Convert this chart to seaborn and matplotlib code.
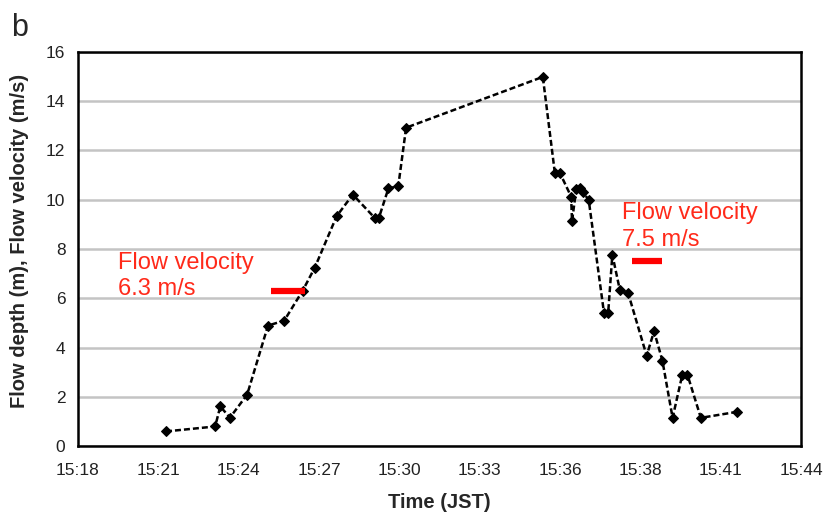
import pandas as pd
import numpy as np
import matplotlib
matplotlib.use("Agg")
import matplotlib.pyplot as plt
import matplotlib.dates as mdates
import seaborn as sns

# observed flow depth (time, depth in m)
times = ["15:21:10", "15:22:56", "15:23:07", "15:23:28", "15:24:05", "15:24:50",
         "15:25:25", "15:26:05", "15:26:31", "15:27:18", "15:27:53", "15:28:41",
         "15:28:49", "15:29:10", "15:29:31", "15:29:48", "15:34:43", "15:35:09",
         "15:35:20", "15:35:44", "15:35:46", "15:35:55", "15:36:03", "15:36:10",
         "15:36:22", "15:36:55", "15:37:04", "15:37:13", "15:37:29", "15:37:47",
         "15:38:27", "15:38:43", "15:39:01", "15:39:23", "15:39:44", "15:39:55",
         "15:40:24", "15:41:41"]
depth = [0.61, 0.81, 1.62, 1.17, 2.10, 4.90,
         5.10, 6.32, 7.25, 9.33, 10.21, 9.25,
         9.25, 10.47, 10.54, 12.92, 14.98, 11.08,
         11.08, 10.13, 9.13, 10.42, 10.47, 10.30,
         9.99, 5.41, 5.41, 7.77, 6.36, 6.22,
         3.68, 4.67, 3.48, 1.16, 2.91, 2.91,
         1.16, 1.40]

# flow velocity estimates (start, end, velocity)
vel_start = ["15:24:56", "15:37:55"]
vel_end = ["15:26:10", "15:39:01"]
vel_value = [6.3, 7.5]
vel_labels = ["Flow velocity\n6.3 m/s", "Flow velocity\n7.5 m/s"]
label_time = ["15:19:27", "15:37:33"]
label_y = [5.92, 7.94]

tick_labels = ["15:18", "15:21", "15:24", "15:27", "15:30",
               "15:33", "15:36", "15:38", "15:41", "15:44"]

day = "2011-03-11 "
df = pd.DataFrame({"time": pd.to_datetime([day + t for t in times]), "depth": depth})

sns.set_style("white")
plt.rcParams['font.family'] = ['Liberation Sans', 'DejaVu Sans']

fig = plt.figure(figsize=(8.26, 5.12), dpi=100)
ax = fig.add_axes([0.0944, 0.128, 0.8753, 0.771])

sns.lineplot(data=df, x="time", y="depth", ax=ax, color="black",
             linestyle=(0, (2.4, 1.2)), linewidth=1.8,
             marker="D", markersize=5.5, markeredgecolor="black", zorder=3)

# red bars for flow velocity
for s, e, v in zip(vel_start, vel_end, vel_value):
    ax.plot(pd.to_datetime([day + s, day + e]), [v, v], color="#ff0000",
            linewidth=4.5, solid_capstyle="butt", zorder=4)

t0 = pd.Timestamp(day + "15:18:00")
t1 = pd.Timestamp(day + "15:44:00")
ax.set_xlim(t0, t1)
ticks = np.linspace(mdates.date2num(t0), mdates.date2num(t1), len(tick_labels))
ax.set_xticks(ticks)
ax.set_xticklabels(tick_labels)
ax.set_ylim(0, 16)
ax.set_yticks(range(0, 17, 2))

ax.yaxis.grid(True, color="#c4c4c4", linewidth=1.8)
ax.xaxis.grid(False)
ax.set_axisbelow(True)
for sp in ax.spines.values():
    sp.set_color("black")
    sp.set_linewidth(1.8)
ax.tick_params(axis="both", direction="out", length=5, width=1.5,
               labelsize=12.5, colors="black", pad=4)
ax.tick_params(axis="x", pad=7)
ax.tick_params(axis="both", labelcolor="#222222")

ax.set_xlabel("Time (JST)", fontsize=14.5, fontweight="bold", labelpad=11)
ax.set_ylabel("Flow depth (m), Flow velocity (m/s)", fontsize=14.5,
              fontweight="bold")
ax.yaxis.set_label_coords(-0.068, 0.52)

for lab, lt, ly in zip(vel_labels, label_time, label_y):
    ax.text(pd.Timestamp(day + lt), ly, lab, color="#ff2a1a",
            fontsize=17, linespacing=1.26, va="bottom")

fig.text(0.014, 0.93, "b", fontsize=22)

fig.savefig("out.png", dpi=100)
